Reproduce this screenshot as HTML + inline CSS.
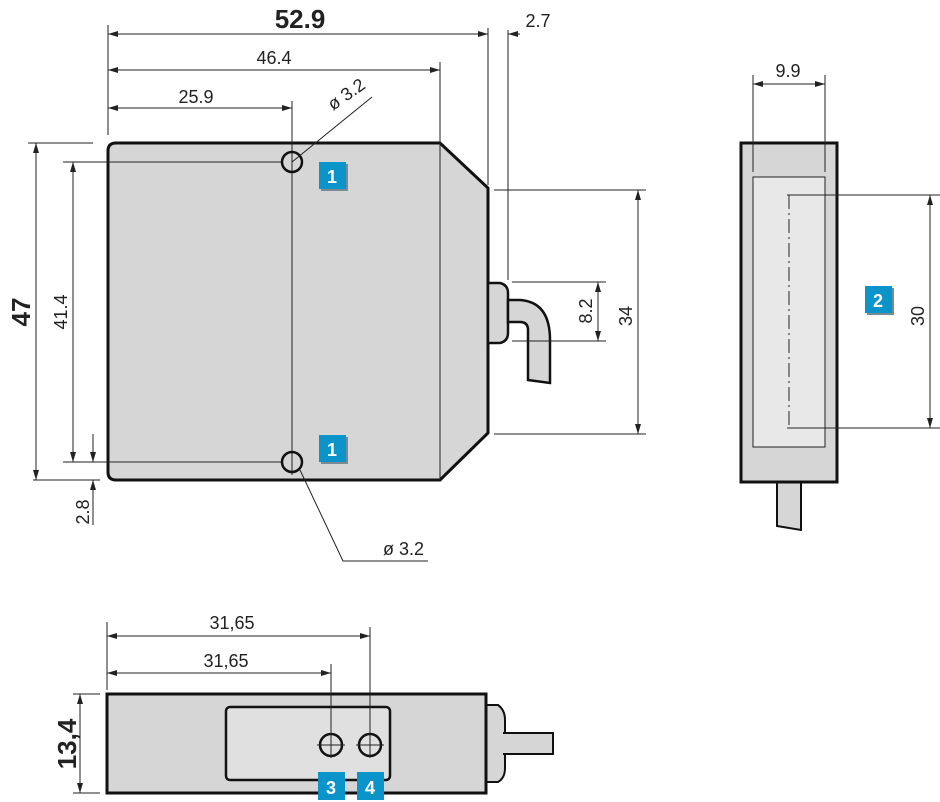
<!DOCTYPE html>
<html><head><meta charset="utf-8"><style>
html,body{margin:0;padding:0;background:#fff}
svg{display:block}
text{font-family:"Liberation Sans",sans-serif;fill:#222}
</style></head><body>
<svg width="940" height="802" viewBox="0 0 940 802" xmlns="http://www.w3.org/2000/svg">
<defs>
<marker id="a" viewBox="0 0 10 6" refX="10" refY="3" markerWidth="10" markerHeight="6" orient="auto-start-reverse" markerUnits="userSpaceOnUse"><path d="M0,0 L10,3 L0,6 z" fill="#222"/></marker>
</defs>
<g stroke="#222" stroke-width="1" fill="none">
<path d="M116,143 H440 L488,188 V433 L440,480 H116 Q108,480 108,472 V151 Q108,143 116,143 Z" fill="#d6d6d6" stroke="#111" stroke-width="3"/>
<line x1="440" y1="62" x2="440" y2="480"/>
<line x1="292" y1="101" x2="292" y2="475"/>
<line x1="63" y1="162" x2="282" y2="162"/>
<line x1="63" y1="462" x2="282" y2="462"/>
<circle cx="292" cy="162" r="10" stroke="#111" stroke-width="2.5"/>
<circle cx="292" cy="462" r="10" stroke="#111" stroke-width="2.5"/>
<line x1="292" y1="162" x2="372" y2="97"/>
<polyline points="300,470 343,561 428,561"/>
<path d="M488,283 H500 Q508,285 508,293 V333 Q508,341 500,343 H488 Z" fill="#d6d6d6" stroke="#111" stroke-width="2.5"/>
<path d="M508,300 H520 Q550,302 550,340 V383 L528,380 V330 Q528,322 520,322 H508 Z" fill="#d6d6d6" stroke="#111" stroke-width="2.5"/>
<line x1="108" y1="25" x2="108" y2="135"/>
<line x1="488" y1="28" x2="488" y2="185"/>
<line x1="508" y1="30" x2="508" y2="280"/>
<line x1="108" y1="34" x2="488" y2="34" marker-start="url(#a)" marker-end="url(#a)"/>
<line x1="520" y1="34" x2="508" y2="34" marker-end="url(#a)"/>
<line x1="108" y1="70" x2="440" y2="70" marker-start="url(#a)" marker-end="url(#a)"/>
<line x1="108" y1="108" x2="292" y2="108" marker-start="url(#a)" marker-end="url(#a)"/>
<line x1="28" y1="143" x2="93" y2="143"/>
<line x1="33" y1="480" x2="100" y2="480"/>
<line x1="36" y1="143" x2="36" y2="480" marker-start="url(#a)" marker-end="url(#a)"/>
<line x1="73" y1="162" x2="73" y2="462" marker-start="url(#a)" marker-end="url(#a)"/>
<line x1="93" y1="434" x2="93" y2="462" marker-end="url(#a)"/>
<line x1="93" y1="525" x2="93" y2="480" marker-end="url(#a)"/>
<line x1="512" y1="282" x2="606" y2="282"/>
<line x1="512" y1="341" x2="606" y2="341"/>
<line x1="598" y1="282" x2="598" y2="341" marker-start="url(#a)" marker-end="url(#a)"/>
<line x1="494" y1="190" x2="646" y2="190"/>
<line x1="494" y1="434" x2="646" y2="434"/>
<line x1="638" y1="190" x2="638" y2="434" marker-start="url(#a)" marker-end="url(#a)"/>
<path d="M777,482 V526 L801,530 V482" fill="#d6d6d6" stroke="#111" stroke-width="2"/>
<rect x="741" y="143" width="96" height="339" fill="#d6d6d6" stroke="#111" stroke-width="3"/>
<rect x="753" y="177" width="72" height="270" fill="#e8e8e8"/>
<line x1="789" y1="195" x2="789" y2="428" stroke-dasharray="14,4,2,4"/>
<line x1="787" y1="195" x2="940" y2="195"/>
<line x1="787" y1="428" x2="940" y2="428"/>
<line x1="930" y1="195" x2="930" y2="428" marker-start="url(#a)" marker-end="url(#a)"/>
<line x1="753" y1="75" x2="753" y2="172"/>
<line x1="825" y1="75" x2="825" y2="172"/>
<line x1="753" y1="84" x2="825" y2="84" marker-start="url(#a)" marker-end="url(#a)"/>
<path d="M486,705 H498 Q505,710 505,720 V768 Q505,778 498,782 H486 Z" fill="#d6d6d6" stroke="#111" stroke-width="2"/>
<path d="M503,733 H553 V754 H503" fill="#d6d6d6" stroke="#111" stroke-width="2"/>
<rect x="107" y="694" width="379" height="99" fill="#d6d6d6" stroke="#111" stroke-width="3"/>
<rect x="226" y="707" width="164" height="73" rx="4" fill="#e0e0e0" stroke="#111" stroke-width="2.5"/>
<circle cx="331" cy="745" r="11" stroke="#111" stroke-width="2.5"/>
<circle cx="370" cy="745" r="11" stroke="#111" stroke-width="2.5"/>
<line x1="317" y1="745" x2="345" y2="745"/><line x1="356" y1="745" x2="384" y2="745"/>
<line x1="107" y1="622" x2="107" y2="690"/>
<line x1="370" y1="627" x2="370" y2="758"/>
<line x1="331" y1="664" x2="331" y2="758"/>
<line x1="107" y1="636" x2="370" y2="636" marker-start="url(#a)" marker-end="url(#a)"/>
<line x1="107" y1="673" x2="331" y2="673" marker-start="url(#a)" marker-end="url(#a)"/>
<line x1="73" y1="694" x2="100" y2="694"/>
<line x1="73" y1="793" x2="100" y2="793"/>
<line x1="80" y1="694" x2="80" y2="793" marker-start="url(#a)" marker-end="url(#a)"/>
</g>
<g font-size="18">
<text x="300" y="28" font-size="26" font-weight="bold" text-anchor="middle">52.9</text>
<text x="538" y="27" text-anchor="middle">2.7</text>
<text x="274" y="64" text-anchor="middle">46.4</text>
<text x="196" y="103" text-anchor="middle">25.9</text>
<text transform="translate(333,111) rotate(-35)">ø 3.2</text>
<text x="383" y="555">ø 3.2</text>
<text transform="translate(30,312) rotate(-90)" font-size="26" font-weight="bold" text-anchor="middle">47</text>
<text transform="translate(67,312) rotate(-90)" text-anchor="middle">41.4</text>
<text transform="translate(89,512) rotate(-90)" text-anchor="middle">2.8</text>
<text transform="translate(592,311) rotate(-90)" text-anchor="middle">8.2</text>
<text transform="translate(632,316) rotate(-90)" text-anchor="middle">34</text>
<text transform="translate(924,316) rotate(-90)" text-anchor="middle">30</text>
<text x="788" y="77" text-anchor="middle">9.9</text>
<text x="232" y="629" text-anchor="middle">31,65</text>
<text x="226" y="667" text-anchor="middle">31,65</text>
<text transform="translate(76,744) rotate(-90)" font-size="26" font-weight="bold" text-anchor="middle">13,4</text>
</g>
<g font-size="18" font-weight="bold">
<rect x="321" y="164" width="27" height="27" fill="#7a8a95"/><rect x="319" y="162" width="27" height="27" fill="#0a94c9"/><text x="332" y="183" text-anchor="middle" style="fill:#fff">1</text>
<rect x="321" y="437" width="27" height="27" fill="#7a8a95"/><rect x="319" y="435" width="27" height="27" fill="#0a94c9"/><text x="332" y="456" text-anchor="middle" style="fill:#fff">1</text>
<rect x="867" y="288" width="27" height="27" fill="#7a8a95"/><rect x="865" y="286" width="27" height="27" fill="#0a94c9"/><text x="878" y="307" text-anchor="middle" style="fill:#fff">2</text>
<rect x="318" y="772" width="27" height="28" fill="#0a94c9"/><text x="331" y="794" text-anchor="middle" style="fill:#fff">3</text>
<rect x="357" y="772" width="27" height="28" fill="#0a94c9"/><text x="370" y="794" text-anchor="middle" style="fill:#fff">4</text>
</g>
</svg>
</body></html>
